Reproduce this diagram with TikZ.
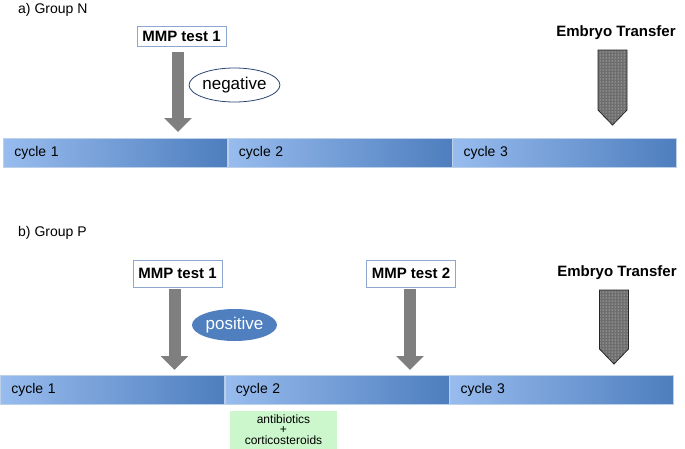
\documentclass[tikz,border=0pt]{standalone}
\usepackage{fontspec}
\setmainfont{Liberation Sans}
\usetikzlibrary{arrows.meta,positioning,shapes.geometric,patterns}
\definecolor{barlight}{HTML}{98BCEE}
\definecolor{bardark}{HTML}{4E7EBE}
\definecolor{barline}{HTML}{BCD0EA}
\definecolor{boxline}{HTML}{8CA8D0}
\definecolor{posblue}{HTML}{4F7FBF}
\definecolor{negline}{HTML}{2A4672}
\definecolor{arrowgray}{HTML}{7F7F7F}
\definecolor{drugfill}{HTML}{CCF7CC}
\definecolor{embryofill}{HTML}{6E6E6E}
\tikzset{
  testbox/.style = {
    rectangle, draw=boxline, line width=1pt, fill=white,
    minimum width=89pt, inner sep=0pt,
    font=\fontsize{15}{18}\selectfont\bfseries
  },
  result/.style = {
    ellipse, minimum width=85pt, inner sep=0pt,
    font=\fontsize{17}{20}\selectfont
  },
  cyclebar/.style = {
    rectangle, left color=barlight, right color=bardark,
    draw=barline, line width=0.6pt, minimum height=29pt,
    text width=202pt, inner xsep=11pt, inner ysep=0pt, align=left,
    font=\fontsize{14}{16}\selectfont
  },
  testarrow/.style = {draw=arrowgray, line width=12pt, -{Triangle[width=27pt,length=14pt]}},
  embryo/.style = {
    draw=black!85, line width=0.8pt, preaction={fill=embryofill},
    pattern=dots, pattern color=white!90!gray
  },
  grouplabel/.style = {anchor=west, inner sep=0pt, font=\fontsize{14}{16}\selectfont},
  etlabel/.style = {inner sep=0pt, font=\fontsize{15}{18}\selectfont\bfseries},
  drugbox/.style = {
    rectangle, fill=drugfill, minimum width=107pt, minimum height=38pt,
    inner sep=0pt, align=center, font=\fontsize{12}{10.5}\selectfont
  },
}

\begin{document}
\begin{tikzpicture}[x=1pt, y=-1pt]
  \fill[white] (0,0) rectangle (685,448);
  \useasboundingbox (0,0) rectangle (685,448);

  % a) group N
  \node (grpa) [grouplabel] at (18,10) {a) Group N};
  \node (mmpa) [testbox, minimum height=20pt] at (181.5,36) {MMP test 1};
  \node (nega) [result, minimum height=34pt, draw=negline, line width=0.8pt, fill=white] at (234.5,85) {negative};
  \node (eta) [etlabel] at (616,33) {Embryo Transfer};
  \node (cyca1) [cyclebar, anchor=north west] at (3,138) {cycle 1};
  \node (cyca2) [cyclebar, right=0pt of cyca1] {cycle 2};
  \node (cyca3) [cyclebar, right=0pt of cyca2] {cycle 3};
  \draw[testarrow, shorten <=5pt, shorten >=6pt] ([xshift=-3.5pt]mmpa.south) -- ([xshift=-3.5pt]mmpa.south |- cyca1.north);
  \draw[embryo] ([xshift=-18pt,yshift=-17pt]eta.center) -- ++(29,0) -- ++(0,60) -- ++(-14.5,15) -- ++(-14.5,-15) -- cycle;

  % b) group P
  \node (grpb) [grouplabel] at (18,233) {b) Group P};
  \node (mmpb1) [testbox, minimum height=27pt] at (177.5,273.5) {MMP test 1};
  \node (mmpb2) [testbox, minimum height=27pt] at (411,273.5) {MMP test 2};
  \node (posb) [result, minimum height=32pt, fill=posblue, text=white] at (234.5,325) {positive};
  \node (etb) [etlabel] at (617,273) {Embryo Transfer};
  \node (cycb1) [cyclebar, anchor=north west] at (0,375) {cycle 1};
  \node (cycb2) [cyclebar, right=0pt of cycb1] {cycle 2};
  \node (cycb3) [cyclebar, right=0pt of cycb2] {cycle 3};
  \node (drug) [drugbox] at (283.5,429.5) {antibiotics\\+\\corticosteroids};
  \draw[testarrow, shorten <=1.5pt, shorten >=5pt] ([xshift=-3pt]mmpb1.south) -- ([xshift=-3pt]mmpb1.south |- cycb1.north);
  \draw[testarrow, shorten <=1.5pt, shorten >=5pt] ([xshift=-1pt]mmpb2.south) -- ([xshift=-1pt]mmpb2.south |- cycb2.north);
  \draw[embryo] ([xshift=-17.5pt,yshift=-17pt]etb.center) -- ++(29,0) -- ++(0,59) -- ++(-14.5,15) -- ++(-14.5,-15) -- cycle;
\end{tikzpicture}
\end{document}
